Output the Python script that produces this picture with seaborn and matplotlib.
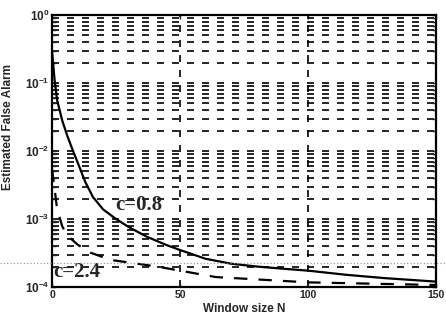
import numpy as np
import pandas as pd
import matplotlib
matplotlib.use("Agg")
import matplotlib.pyplot as plt
import seaborn as sns
from matplotlib.lines import Line2D
from matplotlib.ticker import LogLocator, NullFormatter

# ---- data ----
n_c08 = [0, 1, 2, 4, 6, 8, 10, 13, 16, 20, 25, 30, 37, 45, 50, 60, 70, 80, 90, 100, 115, 130, 150]
pfa_c08 = [0.30, 0.112, 0.056, 0.028, 0.0166, 0.0105, 0.0068, 0.0035, 0.0021, 0.00138, 0.0010,
           0.00076, 0.00055, 0.00041, 0.00035, 0.00026, 0.00022, 0.00020, 0.000186, 0.000174,
           0.000151, 0.000135, 0.00012]
n_c24 = [0, 1, 2, 4, 6, 10, 15, 23, 41, 64, 100, 150]
pfa_c24 = [0.0055, 0.0028, 0.0014, 0.00078, 0.00057, 0.00042, 0.00032, 0.00025, 0.0002,
           0.00014, 0.000117, 0.000107]

xticks = [0, 50, 100, 150]
yticks = [1e-4, 1e-3, 1e-2, 1e-1, 1e0]
ytick_labels = [r"$\mathbf{10^{-4}}$", r"$\mathbf{10^{-3}}$", r"$\mathbf{10^{-2}}$",
                r"$\mathbf{10^{-1}}$", r"$\mathbf{10^{0}}$"]

df = pd.concat([
    pd.DataFrame({"N": n_c08, "pfa": pfa_c08, "c": "c=0.8"}),
    pd.DataFrame({"N": n_c24, "pfa": pfa_c24, "c": "c=2.4"}),
])

sns.set_style("ticks")
plt.rcParams['font.family'] = ['Liberation Sans', 'DejaVu Sans']
plt.rcParams['mathtext.fontset'] = 'custom'
plt.rcParams['mathtext.bf'] = 'Liberation Sans:bold'

fig = plt.figure(figsize=(4.46, 3.22), dpi=100)
ax = fig.add_axes([0.1166, 0.1087, 0.861, 0.8447])

ax.set_yscale("log")
ax.set_xlim(0, 150)
ax.set_ylim(1e-4, 1)

# MATLAB-style dashed grid
dash = (0, (4.2, 4.8))
ax.yaxis.set_minor_locator(LogLocator(base=10, subs=np.arange(2, 10)))
ax.yaxis.set_minor_formatter(NullFormatter())
ax.grid(True, which="both", axis="y", color="black", linestyle=dash, linewidth=1.2)
ax.grid(True, which="major", axis="x", color="black", linestyle=dash, linewidth=1.2)

sns.lineplot(data=df, x="N", y="pfa", style="c", color="black", linewidth=1.6,
             dashes={"c=0.8": "", "c=2.4": (6, 5)}, legend=False, ax=ax)

ax.text(24.6, 10 ** -2.79, "c=0.8", family="Liberation Serif", fontsize=15,
        fontweight="bold", va="center", ha="left")
ax.text(0.4, 10 ** -3.78, "c=2.4", family="Liberation Serif", fontsize=15,
        fontweight="bold", va="center", ha="left")

ax.set_xticks(xticks)
ax.set_xticklabels([str(t) for t in xticks], fontweight="bold", fontsize=7.5)
ax.set_yticks(yticks)
ax.set_yticklabels(ytick_labels, fontsize=8.5)
ax.tick_params(which="both", direction="in", top=True, right=True, length=3, width=1)
ax.tick_params(axis="both", pad=2)

ax.set_xlabel("Window size N", fontweight="bold", fontsize=8.5, labelpad=2)
ax.set_ylabel("Estimated False Alarm", fontweight="bold", fontsize=8.5)
ax.yaxis.set_label_coords(-0.098, 0.59)

for sp in ax.spines.values():
    sp.set_linewidth(1.6)
    sp.set_color("black")

# faint scan streak across the page
fig.add_artist(Line2D([0, 1], [0.183, 0.183], transform=fig.transFigure,
                      color="0.55", linestyle=(0, (1, 2)), linewidth=0.8))

fig.savefig("out.png", dpi=100)
